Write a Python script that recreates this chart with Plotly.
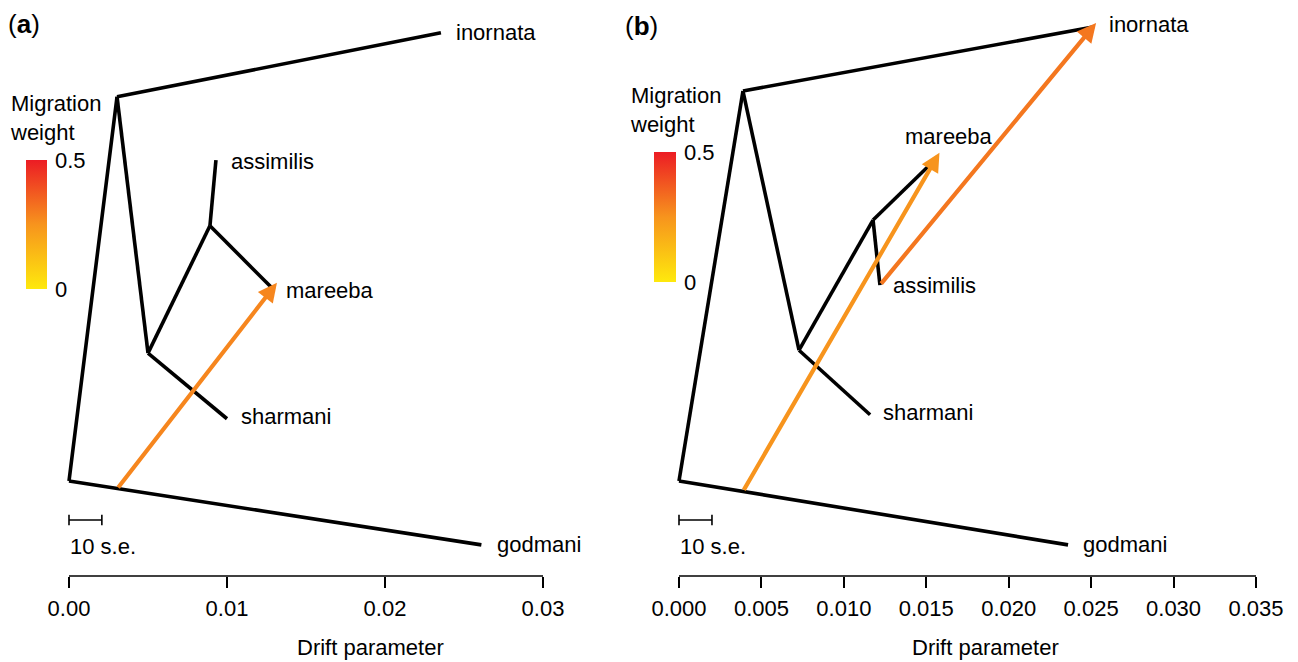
import plotly.graph_objects as go
from plotly.colors import sample_colorscale

# ---------------- data ----------------
node_names = ["root", "godmani", "n_inornata", "inornata", "n1", "sharmani", "n2", "assimilis", "mareeba"]

# panel (a)
a_drift = [0.0, 0.0261, 0.00304, 0.02354, 0.0050, 0.0100, 0.00892, 0.0093, 0.01285]
a_ypos = [0.165, 0.054, 0.832, 0.943, 0.387, 0.273, 0.608, 0.722, 0.500]
a_edges = [("root", "godmani"), ("root", "n_inornata"), ("n_inornata", "inornata"),
           ("n_inornata", "n1"), ("n1", "sharmani"), ("n1", "n2"),
           ("n2", "assimilis"), ("n2", "mareeba")]
a_mig_from_x = [0.00304]
a_mig_from_y = [0.151]
a_mig_to_x = [0.01316]
a_mig_to_y = [0.509]
a_mig_weight = [0.28]

# panel (b)
b_drift = [0.0, 0.0236, 0.00388, 0.02511, 0.00728, 0.01159, 0.01177, 0.01219, 0.01522]
b_ypos = [0.165, 0.054, 0.842, 0.953, 0.392, 0.280, 0.618, 0.505, 0.714]
b_edges = [("root", "godmani"), ("root", "n_inornata"), ("n_inornata", "inornata"),
           ("n_inornata", "n1"), ("n1", "sharmani"), ("n1", "n2"),
           ("n2", "mareeba"), ("n2", "assimilis")]
b_mig_from_x = [0.00388, 0.01219]
b_mig_from_y = [0.147, 0.505]
b_mig_to_x = [0.0158, 0.0253]
b_mig_to_y = [0.735, 0.960]
b_mig_weight = [0.25, 0.31]

tips = ["inornata", "assimilis", "mareeba", "sharmani", "godmani"]
a_ticks = [0.0, 0.01, 0.02, 0.03]
b_ticks = [0.0, 0.005, 0.010, 0.015, 0.020, 0.025, 0.030, 0.035]
scale_bar_len = [0.00208, 0.0020]  # 10 s.e. in drift units, (a) and (b)
weight_max = 0.5

# ---------------- style ----------------
W, H = 1298, 662
FONT = "Liberation Sans, Arial, sans-serif"
FS = 22
colorscale = [[0.0, "#FEE90D"], [0.5, "#F7941D"], [1.0, "#EC1C24"]]
AXIS_BOTTOM = 576

# label offsets (px) for each tip: (xshift, yshift, xanchor)
a_label_off = {"inornata": (13, 0, "left"), "assimilis": (13, -1, "left"),
               "mareeba": (12, -2, "left"), "sharmani": (12, 2, "left"),
               "godmani": (14, 0, "left")}
b_label_off = {"inornata": (14, 3, "left"), "assimilis": (11, 0, "left"),
               "mareeba": (19, 28, "center"), "sharmani": (11, 2, "left"),
               "godmani": (13, 0, "left")}

fig = go.Figure()


def px_x(p):
    return p / W


def px_y(p):
    return 1 - p / H


def draw_panel(xref, yref, drift, ypos, edges, mfx, mfy, mtx, mty, mw, label_off, sb_len):
    idx = {n: i for i, n in enumerate(node_names)}
    xs, ys = [], []
    for a, b in edges:
        xs += [drift[idx[a]], drift[idx[b]], None]
        ys += [ypos[idx[a]], ypos[idx[b]], None]
    fig.add_trace(go.Scatter(x=xs, y=ys, mode="lines", xaxis=xref, yaxis=yref,
                             line=dict(color="black", width=3.6), hoverinfo="skip",
                             showlegend=False))
    # scale bar
    sb_y = 0.0972
    sb_h = 0.009
    fig.add_trace(go.Scatter(x=[0, sb_len, None, 0, 0, None, sb_len, sb_len],
                             y=[sb_y, sb_y, None, sb_y - sb_h, sb_y + sb_h, None, sb_y - sb_h, sb_y + sb_h],
                             mode="lines", xaxis=xref, yaxis=yref,
                             line=dict(color="black", width=1.6), hoverinfo="skip", showlegend=False))
    fig.add_annotation(x=0, y=sb_y, xref=xref, yref=yref, text="10 s.e.", showarrow=False,
                       xanchor="left", yanchor="middle", yshift=-26, xshift=-1,
                       font=dict(size=FS, color="black", family=FONT))
    # migration arrows
    for fx, fy, tx, ty, w in zip(mfx, mfy, mtx, mty, mw):
        col = sample_colorscale(colorscale, [w / weight_max])[0]
        fig.add_annotation(x=tx, y=ty, ax=fx, ay=fy, xref=xref, yref=yref, axref=xref, ayref=yref,
                           text="", showarrow=True, arrowhead=2, arrowsize=0.9, arrowwidth=4.2,
                           arrowcolor=col, standoff=0, startstandoff=0)
    # tip labels
    for t in tips:
        i = idx[t]
        xs_, ys_, xa = label_off[t]
        fig.add_annotation(x=drift[i], y=ypos[i], xref=xref, yref=yref, text=t, showarrow=False,
                           xanchor=xa, yanchor="middle", xshift=xs_, yshift=ys_,
                           font=dict(size=FS, color="black", family=FONT))


draw_panel("x", "y", a_drift, a_ypos, a_edges, a_mig_from_x, a_mig_from_y, a_mig_to_x,
           a_mig_to_y, a_mig_weight, a_label_off, scale_bar_len[0])
draw_panel("x2", "y2", b_drift, b_ypos, b_edges, b_mig_from_x, b_mig_from_y, b_mig_to_x,
           b_mig_to_y, b_mig_weight, b_label_off, scale_bar_len[1])

# colour bars (legend for migration weight)
for (cx, cy, clen, cth, lab_gap) in [(26, 224.5, 129, 21, 4), (654, 217, 130, 22, 4)]:
    fig.add_trace(go.Scatter(x=[None], y=[None], mode="markers", showlegend=False, hoverinfo="skip",
                             marker=dict(color=[0], cmin=0, cmax=weight_max, colorscale=colorscale,
                                         showscale=True,
                                         colorbar=dict(x=px_x(cx), xanchor="left", y=px_y(cy), yanchor="middle",
                                                       len=clen, lenmode="pixels", thickness=cth,
                                                       thicknessmode="pixels", xpad=0, ypad=0,
                                                       outlinewidth=0, tickvals=[0, weight_max],
                                                       ticktext=["0", "0.5"], ticks="outside",
                                                       ticklen=lab_gap, tickcolor="rgba(0,0,0,0)",
                                                       tickfont=dict(size=FS, color="black", family=FONT)))))

# "Migration weight" titles and panel letters
for (mx, my) in [(8, 118.5), (628, 110)]:
    fig.add_annotation(x=px_x(mx), y=px_y(my), xref="paper", yref="paper", text="Migration<br>weight",
                       showarrow=False, xanchor="left", yanchor="middle", align="left",
                       font=dict(size=FS, color="black", family=FONT))
for (lx, ly, lab) in [(6, 24, "a"), (623, 26, "b")]:
    fig.add_annotation(x=px_x(lx), y=px_y(ly), xref="paper", yref="paper", text="(<b>%s</b>)" % lab,
                       showarrow=False, xanchor="left", yanchor="middle",
                       font=dict(size=26, color="black", family=FONT))
# x-axis titles
for (tx, ty) in [(370, 647), (985, 647)]:
    fig.add_annotation(x=px_x(tx), y=px_y(ty), xref="paper", yref="paper", text="Drift parameter",
                       showarrow=False, xanchor="center", yanchor="middle",
                       font=dict(size=FS, color="black", family=FONT))

# axes: zero at px 69 / 679, 15800 / 16486 px per unit
pad = 0.002
a_ppu = (543 - 69) / 0.03
b_ppu = (1256 - 679) / 0.035
a_dom = [(69 - pad * a_ppu) / W, (543 + pad * a_ppu) / W]
b_dom = [(679 - pad * b_ppu) / W, (1256 + pad * b_ppu) / W]
ydom = [(H - AXIS_BOTTOM) / H, 1.0]

common_x = dict(showgrid=False, zeroline=False, showline=False, ticks="outside", ticklen=11,
                tickwidth=1.6, tickcolor="black", ticklabelstandoff=2,
                tickfont=dict(size=FS, color="black", family=FONT))
fig.update_layout(
    width=W, height=H, margin=dict(l=0, r=0, t=0, b=0),
    paper_bgcolor="white", plot_bgcolor="white", showlegend=False,
    xaxis=dict(domain=a_dom, range=[-pad, 0.03 + pad], tickvals=a_ticks,
               ticktext=["%.2f" % v for v in a_ticks], anchor="y", **common_x),
    xaxis2=dict(domain=b_dom, range=[-pad, 0.035 + pad], tickvals=b_ticks,
                ticktext=["%.3f" % v for v in b_ticks], anchor="y2", **common_x),
    yaxis=dict(domain=ydom, range=[0, 1], visible=False, anchor="x"),
    yaxis2=dict(domain=ydom, range=[0, 1], visible=False, anchor="x2"),
)
# axis baselines spanning only the tick range (R style)
for xr, yr, tk in [("x", "y domain", a_ticks), ("x2", "y2 domain", b_ticks)]:
    fig.add_shape(type="line", xref=xr, yref=yr, x0=tk[0], x1=tk[-1], y0=0, y1=0,
                  line=dict(color="black", width=1.6))

fig.write_html("out.html", config={"displayModeBar": False},
               post_script="document.body.style.margin='0px';")
